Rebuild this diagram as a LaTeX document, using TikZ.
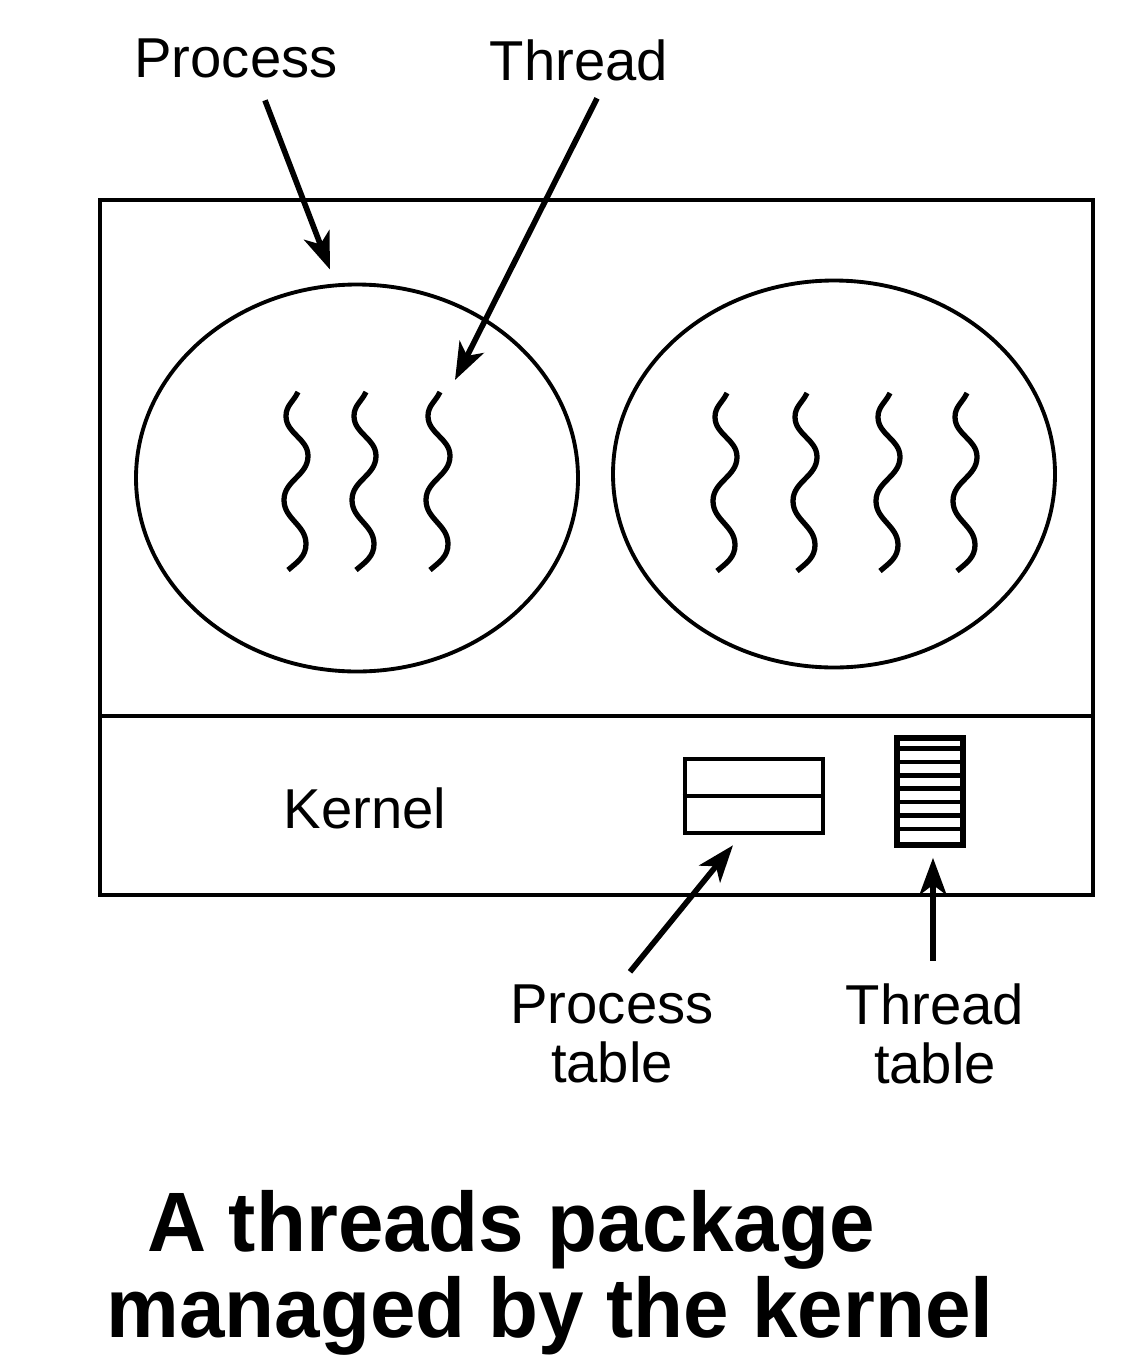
\documentclass[tikz,border=0pt]{standalone}
\usepackage{fontspec}
\setmainfont{Liberation Sans}
\usetikzlibrary{arrows.meta,shapes.geometric}

\tikzset{
  lbl/.style={inner sep=0pt,align=center,font=\fontsize{16}{17}\selectfont},
  ttl/.style={inner sep=0pt,xscale=0.97,font=\bfseries\fontsize{24}{28}\selectfont},
  ptr/.style={line width=1.6pt,-{Stealth[length=3.7mm,width=2.7mm,inset=1mm]}},
  proc/.style={draw,ellipse,line width=1.1pt,minimum width=4.42cm,minimum height=3.87cm},
  thread/.pic={\draw[line width=1.5pt] (0,0) to[out=-115,in=90] (-0.12,-0.24) to[out=-90,in=90] (0.10,-0.64)
    to[out=-90,in=90] (-0.14,-1.08) to[out=-90,in=90] (0.08,-1.52) to[out=-90,in=40] (-0.10,-1.78);}
}

\begin{document}
\begin{tikzpicture}
	\useasboundingbox (0,0) rectangle (11.44,-13.68);
	\draw[line width=1pt] (1.00,-2.00) rectangle (10.93,-8.95);
	\draw[line width=1pt] (1.00,-7.16) coordinate (kl) -- (10.93,-7.16) coordinate (kr);
	\node[proc] (p1) at (3.57,-4.78) {};
	\node[proc] (p2) at (8.34,-4.74) {};
	\foreach \x in {2.98,3.66,4.40} \pic at (\x,-3.92) {thread};
	\foreach \x in {7.27,8.07,8.90,9.67} \pic at (\x,-3.93) {thread};
	\coordinate (t3) at (4.55,-3.80);
	\node[lbl] (proclbl) at (2.36,-0.58) {Process};
	\node[lbl] (thrlbl) at (5.79,-0.60) {Thread};
	\node[lbl] (kernel) at (3.65,-8.08) {Kernel};
	\node[draw,line width=1.3pt,minimum width=1.38cm,minimum height=0.74cm,inner sep=0pt] (ptab) at (7.54,-7.96) {};
	\draw[line width=1.3pt] (ptab.west) -- (ptab.east);
	\node[draw,line width=1.6pt,minimum width=0.66cm,minimum height=1.07cm,inner sep=0pt] (ttab) at (9.30,-7.915) {};
	\foreach \i in {1,...,7} \draw[line width=1.3pt] ([yshift=-\i*1.07cm/8]ttab.north west) -- ([yshift=-\i*1.07cm/8]ttab.north east);
	\node[lbl] (ptablbl) at (6.12,-10.34) {Process\\table};
	\node[lbl] (ttablbl) at (9.35,-10.34) {Thread\\table};
	\node[ttl] (title1) at (5.11,-12.30) {A threads package};
	\node[ttl] (title2) at (5.50,-13.16) {managed by the kernel};
	\draw[ptr] ([xshift=0.29cm,yshift=-0.22cm]proclbl.south) -- ([xshift=-0.27cm,yshift=0.13cm]p1.north);
	\draw[ptr] ([xshift=0.18cm,yshift=-0.17cm]thrlbl.south) -- (t3);
	\draw[ptr] ([xshift=0.18cm,yshift=0.12cm]ptablbl.north) -- ([xshift=-0.21cm,yshift=-0.10cm]ptab.south);
	\draw[ptr] ([xshift=-0.02cm,yshift=0.22cm]ttablbl.north) -- ([xshift=0.03cm,yshift=-0.10cm]ttab.south);
\end{tikzpicture}
\end{document}
